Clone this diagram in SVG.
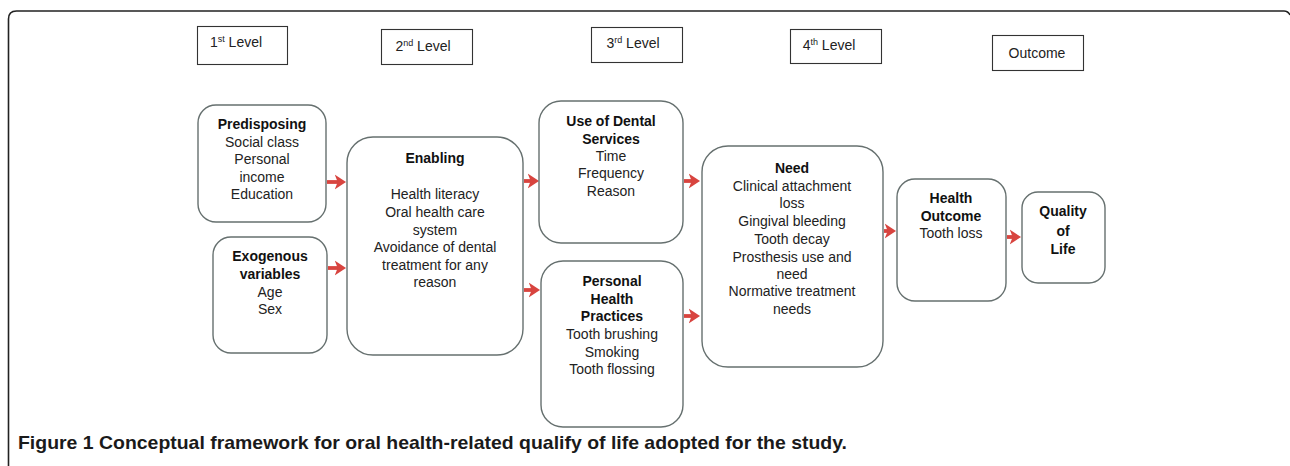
<svg xmlns="http://www.w3.org/2000/svg" width="1290" height="466" viewBox="0 0 1290 466">
<style>
.frame{fill:none;stroke:#222;stroke-width:1.6}
.lvl{fill:#fff;stroke:#333;stroke-width:1.1}
.node{fill:#fff;stroke:#66706f;stroke-width:1.4}
.t{font-family:"Liberation Sans",Arial,sans-serif;font-size:14px;fill:#222;text-anchor:middle}
.b{font-weight:bold;fill:#111}
.lt{font-family:"Liberation Sans",Arial,sans-serif;font-size:14px;fill:#222;text-anchor:middle}
.sup{font-size:9px}
.arr{stroke:#d8443f;stroke-width:3.8;fill:none;marker-end:url(#ah)}
.cap{font-family:"Liberation Sans Narrow","Liberation Sans",Arial,sans-serif;font-size:19px;font-weight:bold;fill:#1a1a1a}
</style>
<defs>
<marker id="ah" markerWidth="4" markerHeight="4" refX="2.2" refY="2" orient="auto" markerUnits="strokeWidth">
<path d="M0,0 L3,2 L0,4 L0.8,2 Z" fill="#d8443f"/>
</marker>
</defs>
<rect width="1290" height="466" fill="#fff"/>
<path class="frame" d="M8.5,466 V19 Q8.5,11 16.5,11 H1284 Q1288,11 1290,15"/>

<g id="level1"><rect class="lvl" x="197.5" y="26.5" width="90" height="38"/><text class="lt" x="236" y="47">1<tspan class="sup" dy="-5">st</tspan><tspan dy="5"> Level</tspan></text></g>
<g id="level2"><rect class="lvl" x="381.5" y="29.5" width="91" height="35"/><text class="lt" x="423" y="51">2<tspan class="sup" dy="-5">nd</tspan><tspan dy="5"> Level</tspan></text></g>
<g id="level3"><rect class="lvl" x="591.5" y="27.5" width="91" height="35"/><text class="lt" x="633" y="48">3<tspan class="sup" dy="-5">rd</tspan><tspan dy="5"> Level</tspan></text></g>
<g id="level4"><rect class="lvl" x="790.5" y="29.5" width="91" height="34"/><text class="lt" x="829" y="50">4<tspan class="sup" dy="-5">th</tspan><tspan dy="5"> Level</tspan></text></g>
<g id="outcome"><rect class="lvl" x="992.5" y="35.5" width="91" height="35"/><text class="lt" x="1037" y="58">Outcome</text></g>

<g id="connectors">
<line class="arr" x1="327" y1="182" x2="343" y2="182"/>
<line class="arr" x1="328" y1="268" x2="343" y2="268"/>
<line class="arr" x1="524" y1="181" x2="536" y2="181"/>
<line class="arr" x1="524" y1="290" x2="537" y2="290"/>
<line class="arr" x1="684" y1="181" x2="697" y2="181"/>
<line class="arr" x1="684" y1="316" x2="697" y2="316"/>
<line class="arr" x1="884" y1="231" x2="893" y2="231"/>
<line class="arr" x1="1007" y1="237" x2="1018" y2="237"/>
</g>

<g id="predisposing"><rect class="node" x="198" y="105" width="128" height="117" rx="18"/>
<text class="t" x="262"><tspan class="b" x="262" y="129">Predisposing</tspan><tspan x="262" y="147">Social class</tspan><tspan x="262" y="164">Personal</tspan><tspan x="262" y="182">income</tspan><tspan x="262" y="199">Education</tspan></text></g>

<g id="exogenous"><rect class="node" x="213" y="237" width="114" height="116" rx="18"/>
<text class="t" x="270"><tspan class="b" x="270" y="261">Exogenous</tspan><tspan class="b" x="270" y="279">variables</tspan><tspan x="270" y="297">Age</tspan><tspan x="270" y="314">Sex</tspan></text></g>

<g id="enabling"><rect class="node" x="347" y="137" width="176" height="218" rx="26"/>
<text class="t" x="435"><tspan class="b" x="435" y="163">Enabling</tspan><tspan x="435" y="199">Health literacy</tspan><tspan x="435" y="217">Oral health care</tspan><tspan x="435" y="235">system</tspan><tspan x="435" y="252">Avoidance of dental</tspan><tspan x="435" y="270">treatment for any</tspan><tspan x="435" y="287">reason</tspan></text></g>

<g id="dental"><rect class="node" x="539" y="101" width="144" height="142" rx="22"/>
<text class="t" x="611"><tspan class="b" x="611" y="126">Use of Dental</tspan><tspan class="b" x="611" y="144">Services</tspan><tspan x="611" y="161">Time</tspan><tspan x="611" y="178">Frequency</tspan><tspan x="611" y="196">Reason</tspan></text></g>

<g id="practices"><rect class="node" x="541" y="261" width="142" height="166" rx="22"/>
<text class="t" x="612"><tspan class="b" x="612" y="286">Personal</tspan><tspan class="b" x="612" y="304">Health</tspan><tspan class="b" x="612" y="321">Practices</tspan><tspan x="612" y="339">Tooth brushing</tspan><tspan x="612" y="357">Smoking</tspan><tspan x="612" y="374">Tooth flossing</tspan></text></g>

<g id="need"><rect class="node" x="702" y="146" width="181" height="221" rx="26"/>
<text class="t" x="792"><tspan class="b" x="792" y="173">Need</tspan><tspan x="792" y="191">Clinical attachment</tspan><tspan x="792" y="208">loss</tspan><tspan x="792" y="226">Gingival bleeding</tspan><tspan x="792" y="244">Tooth decay</tspan><tspan x="792" y="262">Prosthesis use and</tspan><tspan x="792" y="279">need</tspan><tspan x="792" y="296">Normative treatment</tspan><tspan x="792" y="314">needs</tspan></text></g>

<g id="health-outcome"><rect class="node" x="897" y="179" width="109" height="122" rx="18"/>
<text class="t" x="951"><tspan class="b" x="951" y="203">Health</tspan><tspan class="b" x="951" y="221">Outcome</tspan><tspan x="951" y="238">Tooth loss</tspan></text></g>

<g id="quality"><rect class="node" x="1022" y="192" width="83" height="91" rx="16"/>
<text class="t" x="1063"><tspan class="b" x="1063" y="216">Quality</tspan><tspan class="b" x="1063" y="236">of</tspan><tspan class="b" x="1063" y="254">Life</tspan></text></g>

<text class="cap" x="18" y="449" textLength="829" lengthAdjust="spacingAndGlyphs">Figure 1 Conceptual framework for oral health-related qualify of life adopted for the study.</text>
</svg>
